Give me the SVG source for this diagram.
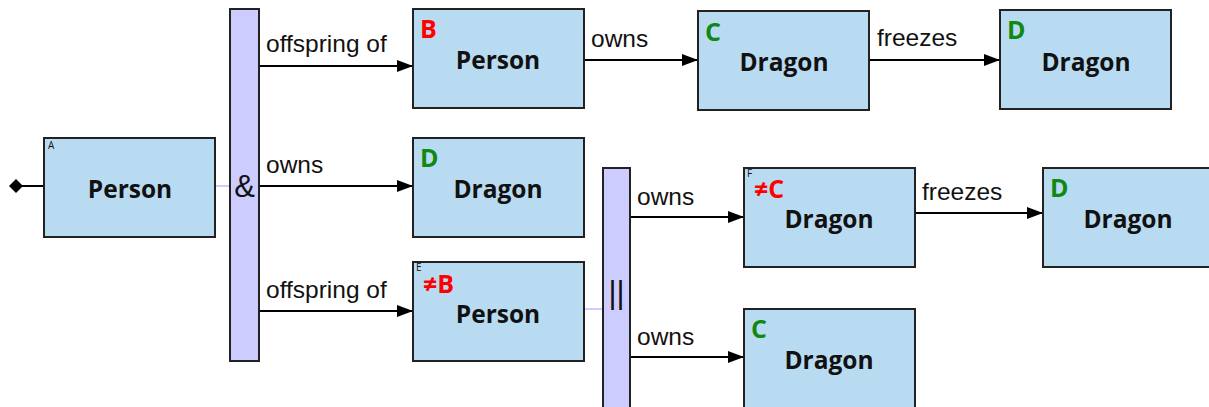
<svg xmlns="http://www.w3.org/2000/svg" width="1209" height="407" viewBox="0 0 1209 407">
<defs>
<marker id="arr" markerWidth="16" markerHeight="12" refX="16" refY="6" orient="auto" markerUnits="userSpaceOnUse"><path d="M0,0 L16,6 L0,12 Z" fill="#000"/></marker>
<style>
.node{fill:#b9dbf1;stroke:#222;stroke-width:2}
.bar{fill:#ccccff;stroke:#222;stroke-width:2}
.title{font-family:"Open Sans","Noto Sans",sans-serif;font-weight:bold;font-size:24.5px;fill:#111;text-anchor:middle}
.var{font-family:"Open Sans","Noto Sans",sans-serif;font-weight:bold;font-size:25px}
.red{fill:#ff0000}
.green{fill:#118811}
.tiny{font-family:"Open Sans","Noto Sans",sans-serif;font-size:10px;fill:#111}
.lbl{font-family:"Liberation Sans",Arial,sans-serif;font-size:24.5px;fill:#111}
.edge{stroke:#000;stroke-width:2;fill:none;marker-end:url(#arr)}
.link{stroke:#ccccff;stroke-width:2;fill:none}
.op{font-family:"Liberation Sans",Arial,sans-serif;font-size:31px;fill:#111;text-anchor:middle}
</style>
</defs>
<g id="connectors">
<line x1="22" y1="186" x2="44" y2="186" stroke="#000" stroke-width="2"/>
<path d="M9,186 L16,179 L23,186 L16,193 Z" fill="#000"/>
<line class="link" x1="215" y1="186" x2="230" y2="186"/>
<line class="link" x1="584" y1="309" x2="603" y2="309"/>
<line class="edge" x1="259" y1="66" x2="413" y2="66"/>
<text class="lbl" x="266" y="52">offspring of</text>
<line class="edge" x1="584" y1="60" x2="698" y2="60"/>
<text class="lbl" x="591" y="47">owns</text>
<line class="edge" x1="869" y1="60" x2="1000" y2="60"/>
<text class="lbl" x="877" y="46">freezes</text>
<line class="edge" x1="259" y1="186" x2="413" y2="186"/>
<text class="lbl" x="266" y="173">owns</text>
<line class="edge" x1="259" y1="311" x2="413" y2="311"/>
<text class="lbl" x="266" y="298">offspring of</text>
<line class="edge" x1="630" y1="217" x2="744" y2="217"/>
<text class="lbl" x="637" y="205">owns</text>
<line class="edge" x1="915" y1="213" x2="1043" y2="213"/>
<text class="lbl" x="922" y="200">freezes</text>
<line class="edge" x1="630" y1="357" x2="744" y2="357"/>
<text class="lbl" x="637" y="345">owns</text>
</g>
<g id="and">
<rect class="bar" x="230" y="9" width="29" height="352"/>
<text class="op" x="244.5" y="197">&amp;</text>
</g>
<g id="or">
<rect class="bar" x="603" y="168" width="27" height="250"/>
<text class="op" x="616.5" y="303">||</text>
</g>
<g id="nodeA">
<rect class="node" x="44" y="138" width="171" height="99"/>
<text class="tiny" x="48" y="149">A</text>
<text class="title" x="130" y="198">Person</text>
</g>
<g id="nodeB">
<rect class="node" x="413" y="9" width="171" height="99"/>
<text class="var red" x="420" y="38">B</text>
<text class="title" x="498" y="69">Person</text>
</g>
<g id="nodeC">
<rect class="node" x="698" y="11" width="171" height="99"/>
<text class="var green" x="705" y="41">C</text>
<text class="title" x="784" y="71">Dragon</text>
</g>
<g id="nodeD">
<rect class="node" x="1000" y="10" width="171" height="99"/>
<text class="var green" x="1007" y="39">D</text>
<text class="title" x="1086" y="71">Dragon</text>
</g>
<g id="nodeD2">
<rect class="node" x="413" y="138" width="171" height="99"/>
<text class="var green" x="420" y="167">D</text>
<text class="title" x="498" y="198">Dragon</text>
</g>
<g id="nodeE">
<rect class="node" x="413" y="262" width="171" height="99"/>
<text class="tiny" x="416" y="271">E</text>
<text class="var red" x="423" y="293">≠B</text>
<text class="title" x="498" y="323">Person</text>
</g>
<g id="nodeF">
<rect class="node" x="744" y="168" width="171" height="99"/>
<text class="tiny" x="747" y="177">F</text>
<text class="var red" x="754" y="198">≠C</text>
<text class="title" x="829" y="228">Dragon</text>
</g>
<g id="nodeG">
<rect class="node" x="1043" y="168" width="171" height="99"/>
<text class="var green" x="1050" y="197">D</text>
<text class="title" x="1128" y="228">Dragon</text>
</g>
<g id="nodeC2">
<rect class="node" x="744" y="309" width="171" height="110"/>
<text class="var green" x="751" y="338">C</text>
<text class="title" x="829" y="369">Dragon</text>
</g>
</svg>
